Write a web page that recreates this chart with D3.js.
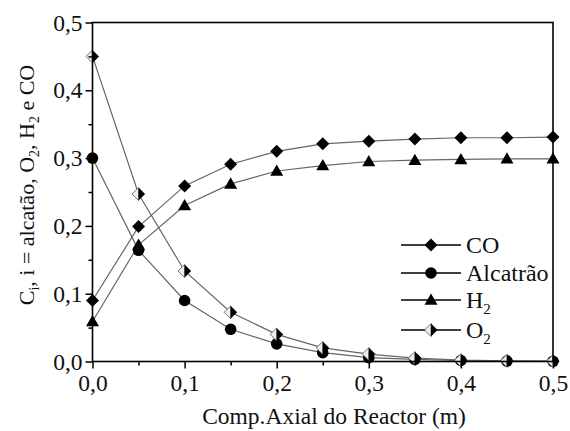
<!DOCTYPE html>
<html><head><meta charset="utf-8">
<script src="https://cdn.jsdelivr.net/npm/d3@7"></script>
<style>body{margin:0;background:#fff}svg{display:block}</style>
</head><body><svg id="c" width="570" height="431"></svg>
<script>
const xVals = [0,0.05,0.1,0.15,0.2,0.25,0.3,0.35,0.4,0.45,0.5];
const coVals = [0.09,0.199,0.259,0.291,0.310,0.321,0.325,0.328,0.330,0.330,0.331];
const alcVals = [0.300,0.164,0.090,0.0475,0.026,0.013,0.0056,0.003,0.0015,0.0007,0.0003];
const h2Vals = [0.059,0.172,0.230,0.262,0.281,0.289,0.295,0.297,0.298,0.299,0.299];
const o2Vals = [0.450,0.247,0.1335,0.0726,0.040,0.020,0.011,0.005,0.002,0.001,0.0005];
const xTicks = [0,0.1,0.2,0.3,0.4,0.5];
const yTicks = [0,0.1,0.2,0.3,0.4,0.5];
const minorTicks = [0.05,0.15,0.25,0.35,0.45];
const seriesNames = ["CO","Alcatrão","H","O"];
const seriesSubs = ["","","2","2"];

const svg = d3.select("#c");
const L=92.5,R=553,T=22.5,B=361.5;
const x = d3.scaleLinear().domain([0,0.5]).range([L,R]);
const y = d3.scaleLinear().domain([0,0.5]).range([B,T]);
const fmt = d => d.toFixed(1).replace(".",",");
const FONT = "'Liberation Serif','Times New Roman',serif";
const TXT = "#111";

const series = [
  {name:"CO", vals:coVals, m:"diamond"},
  {name:"Alcatrão", vals:alcVals, m:"circle"},
  {name:"H2", vals:h2Vals, m:"triangle"},
  {name:"O2", vals:o2Vals, m:"half"}
];

function marker(g, type, cx, cy){
  if(type==="diamond"){
    g.append("path").attr("d",`M${cx},${cy-6.5}L${cx+6.5},${cy}L${cx},${cy+6.5}L${cx-6.5},${cy}Z`).attr("fill","#000");
  } else if(type==="circle"){
    g.append("circle").attr("cx",cx).attr("cy",cy).attr("r",5.8).attr("fill","#000");
  } else if(type==="triangle"){
    g.append("path").attr("d",`M${cx},${cy-6.5}L${cx+6.5},${cy+4.8}L${cx-6.5},${cy+4.8}Z`).attr("fill","#000");
  } else {
    g.append("path").attr("d",`M${cx},${cy-6.5}L${cx-6.5},${cy}L${cx},${cy+6.5}Z`).attr("fill","#eee").attr("stroke","#555").attr("stroke-width",0.8);
    g.append("path").attr("d",`M${cx},${cy-6.5}L${cx+6.5},${cy}L${cx},${cy+6.5}Z`).attr("fill","#000");
  }
}

// lines
const line = d3.line().x((d,i)=>x(xVals[i])).y(d=>y(d));
series.forEach(s=>{
  svg.append("path").datum(s.vals).attr("d",line).attr("fill","none").attr("stroke","#666").attr("stroke-width",1.2);
});
series.forEach(s=>{
  const g = svg.append("g");
  s.vals.forEach((v,i)=>marker(g,s.m,x(xVals[i]),y(v)));
});

// frame
svg.append("rect").attr("x",L).attr("y",T).attr("width",R-L).attr("height",B-T).attr("fill","none").attr("stroke","#000").attr("stroke-width",1.6);

// axes
svg.append("g").attr("transform",`translate(0,${B})`)
  .call(d3.axisBottom(x).tickValues(xTicks).tickFormat(fmt).tickSize(7).tickPadding(6));
svg.append("g").attr("transform",`translate(0,${B})`)
  .call(d3.axisBottom(x).tickValues(minorTicks).tickFormat("").tickSize(4));
svg.append("g").attr("transform",`translate(${L},0)`)
  .call(d3.axisLeft(y).tickValues(yTicks).tickFormat(fmt).tickSize(7).tickPadding(3));
svg.append("g").attr("transform",`translate(${L},0)`)
  .call(d3.axisLeft(y).tickValues(minorTicks).tickFormat("").tickSize(4));
svg.selectAll(".domain").remove();
svg.selectAll(".tick line").attr("stroke","#000").attr("stroke-width",1.5);
svg.selectAll(".tick text").attr("font-family",FONT).attr("font-size",23.5).attr("fill",TXT);

// x label
svg.append("text").attr("x",334).attr("y",424).attr("text-anchor","middle")
  .attr("font-family",FONT).attr("font-size",23.5).attr("fill",TXT).text("Comp.Axial do Reactor (m)");

// y label
const yl = svg.append("text").attr("transform",`translate(34,${(T+B)/2-7}) rotate(-90)`).attr("text-anchor","middle")
  .attr("font-family",FONT).attr("font-size",22).attr("fill",TXT);
yl.append("tspan").text("C");
yl.append("tspan").attr("dy",5).attr("font-size",14).text("i");
yl.append("tspan").attr("dy",-5).text(", i = alcatão, O");
yl.append("tspan").attr("dy",5).attr("font-size",14).text("2");
yl.append("tspan").attr("dy",-5).text(", H");
yl.append("tspan").attr("dy",5).attr("font-size",14).text("2");
yl.append("tspan").attr("dy",-5).text(" e CO");

// legend
const legY = [245,273,300,330];
series.forEach((s,i)=>{
  const g = svg.append("g");
  g.append("line").attr("x1",401).attr("x2",461).attr("y1",legY[i]).attr("y2",legY[i]).attr("stroke","#000").attr("stroke-width",1.6);
  marker(g,s.m,431,legY[i]);
  const t = g.append("text").attr("x",466).attr("y",legY[i]+8).attr("font-family",FONT).attr("font-size",24).attr("fill",TXT);
  t.append("tspan").text(seriesNames[i]);
  if(seriesSubs[i]) t.append("tspan").attr("dy",6).attr("font-size",15).text(seriesSubs[i]);
});
</script></body></html>
